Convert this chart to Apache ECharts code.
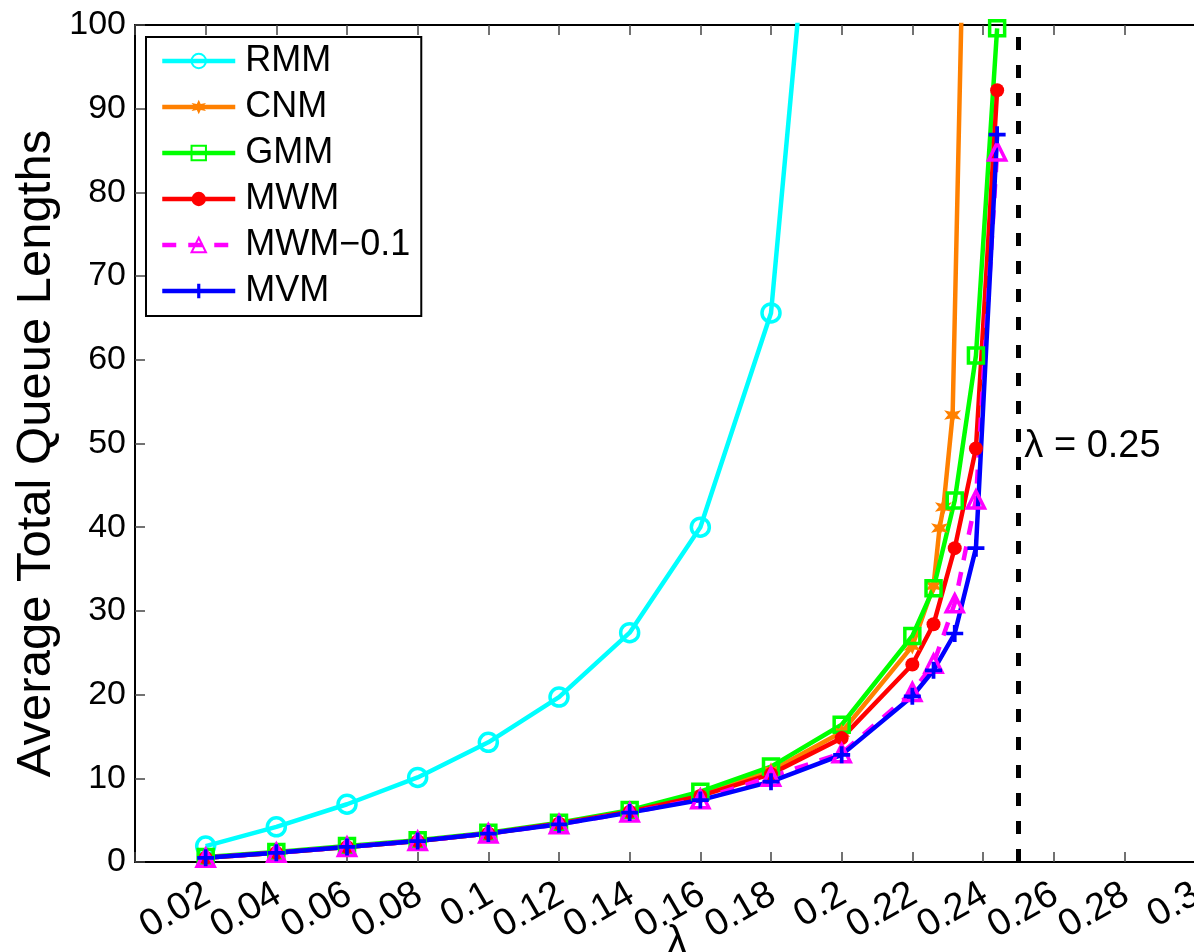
<!DOCTYPE html>
<html>
<head>
    <meta charset="utf-8">
    <title>Average Total Queue Lengths</title>
    <script src="https://cdn.jsdelivr.net/npm/echarts@6/dist/echarts.min.js"></script>
    <style>
        html,body{
            height:100%;
            width:100%;
            margin:0;
            padding:0;
            background:#fff;
        }
        #main{
            width:1194px;
            height:952px;
        }
    </style>
</head>
<body>
<div id="main"></div>
<script>
    // arrival rates (x)
    var lambdaBase = [0.02, 0.04, 0.06, 0.08, 0.1, 0.12, 0.14, 0.16, 0.18, 0.2, 0.22];
    var lambdaTail = [0.226, 0.232, 0.238, 0.244];
    var rmmLambda = [0.02, 0.04, 0.06, 0.08, 0.1, 0.12, 0.14, 0.16, 0.18, 0.2];
    var cnmLambda = [0.02, 0.04, 0.06, 0.08, 0.1, 0.12, 0.14, 0.16, 0.18, 0.2, 0.22, 0.226, 0.2277, 0.2288, 0.2314, 0.238];
    var boundLambda = 0.25;

    // average total queue lengths
    var rmm   = [1.9, 4.2, 6.9, 10.1, 14.3, 19.7, 27.4, 40.0, 65.6, 158];
    var cnm   = [0.5, 1.1, 1.8, 2.5, 3.4, 4.6, 6.0, 8.0, 10.9, 15.5, 25.8, 33.0, 39.9, 42.4, 53.4, 180];
    var gmm   = [0.6, 1.2, 1.9, 2.6, 3.5, 4.7, 6.2, 8.4, 11.4, 16.4, 27.0, 32.7, 43.2, 60.5, 99.6];
    var mwm   = [0.5, 1.1, 1.8, 2.5, 3.4, 4.6, 6.0, 7.9, 10.5, 14.8, 23.6, 28.4, 37.5, 49.4, 92.2];
    var mwm01 = [0.5, 1.1, 1.8, 2.5, 3.4, 4.5, 5.9, 7.5, 10.2, 13.0, 20.3, 23.7, 30.9, 43.3, 84.9];
    var mvm   = [0.5, 1.1, 1.8, 2.5, 3.4, 4.5, 5.9, 7.4, 9.6, 12.8, 19.8, 22.9, 27.3, 37.5, 86.9];

    var names = ['RMM', 'CNM', 'GMM', 'MWM', 'MWM\u22120.1', 'MVM'];

    var lambdaFull = lambdaBase.concat(lambdaTail);
    function pairs(xs, ys) {
        return ys.map(function (v, i) { return [xs[i], v]; });
    }

    var FONT = 'Liberation Sans, Arial, Helvetica, sans-serif';
    var starPath = 'path://M5,0L6.3,3L9.8,2.2L7.6,5L9.8,7.8L6.3,7L5,10L3.7,7L0.2,7.8L2.4,5L0.2,2.2L3.7,3Z';
    var plusPath = 'path://M3.9,0h2.2v3.9h3.9v2.2h-3.9v3.9h-2.2v-3.9h-3.9v-2.2h3.9z';

    function lineSeries(name, data, color, symbol, size, filled, dashed) {
        return {
            name: name,
            type: 'line',
            data: data,
            symbol: symbol,
            symbolSize: size,
            clip: true,
            lineStyle: { color: color, width: 4.5, type: dashed ? [14, 12] : 'solid' },
            itemStyle: filled
                ? { color: color, borderWidth: 0 }
                : { color: 'rgba(255,255,255,0)', borderColor: color, borderWidth: 3.5 },
            emphasis: { disabled: true }
        };
    }

    var myChart = echarts.init(document.getElementById('main'));

    var option = {
        animation: false,
        backgroundColor: '#fff',
        textStyle: { fontFamily: FONT },
        grid: { left: 135, top: 25, width: 1060, height: 837, outerBoundsMode: 'none', containLabel: false },
        legend: {
            data: names,
            orient: 'vertical',
            left: 146,
            top: 37,
            padding: [6, 11, 7, 14],
            itemWidth: 73,
            itemHeight: 18,
            itemGap: 10,
            backgroundColor: '#fff',
            borderColor: '#000',
            borderWidth: 2,
            borderRadius: 0,
            lineStyle: { width: 4.5 },
            textStyle: { fontSize: 36, color: '#000', lineHeight: 36, padding: [0, 0, 0, 5], fontFamily: FONT }
        },
        xAxis: [{
            type: 'value',
            min: 0,
            max: 0.3,
            interval: 0.02,
            name: '\u03bb',
            nameLocation: 'middle',
            nameGap: 60,
            nameMoveOverlap: false,
            nameTextStyle: { fontSize: 42, color: '#000', fontFamily: FONT, padding: [0, 0, 0, 24] },
            axisLine: { show: true, onZero: false, lineStyle: { color: '#000', width: 2 } },
            axisTick: { show: true, inside: true, length: 10, lineStyle: { color: '#444', width: 1.5 } },
            axisLabel: {
                rotate: 30,
                margin: 9,
                verticalAlign: 'top',
                padding: [0, 9, 0, 0],
                fontSize: 38,
                color: '#000',
                fontFamily: FONT,
                formatter: function (v) { return v === 0 ? '' : String(+v.toFixed(2)); }
            },
            splitLine: { show: false }
        }, {
            type: 'value',
            position: 'top',
            min: 0,
            max: 0.3,
            interval: 0.02,
            axisLine: { show: true, onZero: false, lineStyle: { color: '#000', width: 2 } },
            axisTick: { show: true, inside: true, length: 10, lineStyle: { color: '#444', width: 1.5 } },
            axisLabel: { show: false },
            splitLine: { show: false }
        }],
        yAxis: {
            type: 'value',
            min: 0,
            max: 100,
            interval: 10,
            name: 'Average Total Queue Lengths',
            nameLocation: 'middle',
            nameGap: 74,
            nameRotate: 90,
            nameMoveOverlap: false,
            nameTextStyle: { fontSize: 49, color: '#000', fontFamily: FONT, padding: [0, 20, 0, 0] },
            axisLine: { show: true, onZero: false, lineStyle: { color: '#000', width: 2 } },
            axisTick: { show: true, inside: true, length: 10, lineStyle: { color: '#444', width: 1.5 } },
            axisLabel: { margin: 9, fontSize: 34, color: '#000', fontFamily: FONT },
            splitLine: { show: false }
        },
        series: [
            lineSeries(names[0], pairs(rmmLambda, rmm), '#00ffff', 'circle', 18, false, false),
            lineSeries(names[1], pairs(cnmLambda, cnm), '#ff8000', starPath, 17, true, false),
            lineSeries(names[2], pairs(lambdaFull, gmm), '#00ff00', 'rect', 15, false, false),
            lineSeries(names[3], pairs(lambdaFull, mwm), '#ff0000', 'circle', 14, true, false),
            lineSeries(names[4], pairs(lambdaFull, mwm01), '#ff00ff', 'triangle', 17, false, true),
            lineSeries(names[5], pairs(lambdaFull, mvm), '#0000ff', plusPath, 17, true, false),
            {
                name: 'bound',
                type: 'line',
                data: [],
                silent: true,
                markLine: {
                    silent: true,
                    symbol: 'none',
                    label: { show: false },
                    lineStyle: { color: '#000', width: 5, type: [13, 15] },
                    emphasis: { disabled: true },
                    data: [{ xAxis: boundLambda }]
                },
                markPoint: {
                    silent: true,
                    symbol: 'circle',
                    symbolSize: 0,
                    label: {
                        show: true,
                        position: 'right',
                        distance: 6,
                        formatter: '\u03bb = ' + boundLambda,
                        fontSize: 38,
                        color: '#000',
                        fontFamily: FONT
                    },
                    data: [{ coord: [boundLambda, 49.6] }]
                }
            }
        ]
    };
    myChart.setOption(option);
</script>
</body>
</html>
